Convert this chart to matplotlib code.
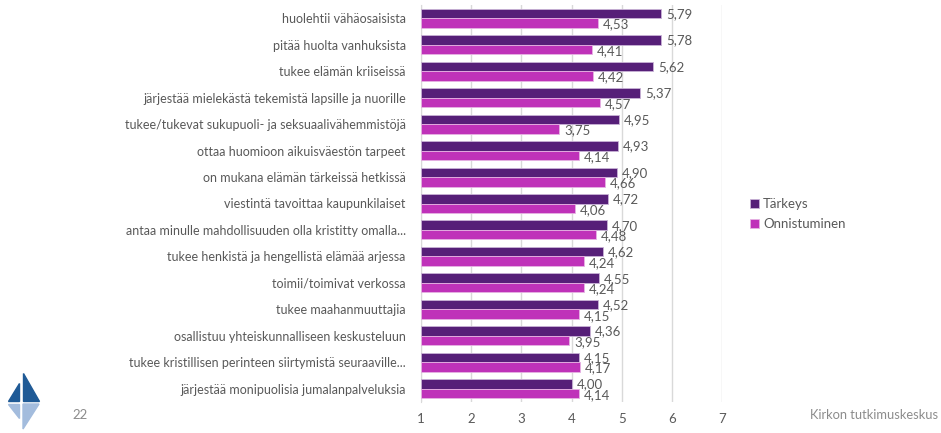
import matplotlib.pyplot as plt
from matplotlib.patches import Polygon
import numpy as np

plt.rcParams['font.family'] = ['Lato', 'DejaVu Sans']

categories = [
    "huolehtii vähäosaisista",
    "pitää huolta vanhuksista",
    "tukee elämän kriiseissä",
    "järjestää mielekästä tekemistä lapsille ja nuorille",
    "tukee/tukevat sukupuoli- ja seksuaalivähemmistöjä",
    "ottaa huomioon aikuisväestön tarpeet",
    "on mukana elämän tärkeissä hetkissä",
    "viestintä tavoittaa kaupunkilaiset",
    "antaa minulle mahdollisuuden olla kristitty omalla...",
    "tukee henkistä ja hengellistä elämää arjessa",
    "toimii/toimivat verkossa",
    "tukee maahanmuuttajia",
    "osallistuu yhteiskunnalliseen keskusteluun",
    "tukee kristillisen perinteen siirtymistä seuraaville...",
    "järjestää monipuolisia jumalanpalveluksia",
]
tarkeys = [5.79, 5.78, 5.62, 5.37, 4.95, 4.93, 4.90, 4.72, 4.70, 4.62, 4.55, 4.52, 4.36, 4.15, 4.00]
onnistuminen = [4.53, 4.41, 4.42, 4.57, 3.75, 4.14, 4.66, 4.06, 4.48, 4.24, 4.24, 4.15, 3.95, 4.17, 4.14]
xticks = [1, 2, 3, 4, 5, 6, 7]

dark = "#561F78"
magenta = "#BF32B9"
gray = "#595959"

fig = plt.figure(figsize=(9.41, 4.33), dpi=100)
ax = fig.add_axes([421 / 941, 31 / 433, 301 / 941, 397 / 433])

n = len(categories)
y = np.arange(n)
h = 0.36
ax.barh(y - h / 2, np.array(tarkeys) - 1, left=1, height=h, color=dark,
        edgecolor="#c9b3d6", linewidth=0.6, label="Tärkeys", zorder=3)
ax.barh(y + h / 2, np.array(onnistuminen) - 1, left=1, height=h, color=magenta,
        edgecolor="#e6b3e3", linewidth=0.6, label="Onnistuminen", zorder=3)

for i in range(n):
    ax.text(tarkeys[i] + 0.1, y[i] - h / 2 + 0.02, f"{tarkeys[i]:.2f}".replace(".", ","),
            va="center", ha="left", fontsize=9.5, color=gray)
    ax.text(onnistuminen[i] + 0.1, y[i] + h / 2 + 0.06, f"{onnistuminen[i]:.2f}".replace(".", ","),
            va="center", ha="left", fontsize=9.5, color=gray)

ax.set_xlim(1, 7)
ax.set_ylim(n - 0.5, -0.5)
ax.set_xticks(xticks)
ax.set_xticklabels([str(t) for t in xticks], fontsize=9.5, color=gray)
ax.set_yticks(y)
ax.set_yticklabels(categories, fontsize=9, color=gray)
ax.tick_params(axis="both", length=0, pad=8)
ax.tick_params(axis="y", pad=11)
ax.xaxis.grid(True, color="#d9d9d9", linewidth=1, zorder=0)
for s in ["top", "right", "bottom"]:
    ax.spines[s].set_visible(False)
ax.spines["left"].set_color("#d9d9d9")

leg = fig.legend(loc="upper left", bbox_to_anchor=(738 / 941, 1 - 186 / 433), frameon=False,
                 fontsize=9.5, handlelength=0.7, handleheight=0.7, handletextpad=0.3,
                 labelspacing=0.6)
for t in leg.get_texts():
    t.set_color(gray)

fig.text(80 / 941, 1 - 415 / 433, "22", fontsize=9.5, color="#8c8c8c", va="center", ha="center")
fig.text(938 / 941, 1 - 415 / 433, "Kirkon tutkimuskeskus", fontsize=9.3, color="#8c8c8c",
         va="center", ha="right")

# logo
def px(pts):
    return [(x / 941, 1 - yy / 433) for x, yy in pts]

for pts, c in [
    ([(8, 401), (19, 401), (19, 383)], "#1F5A96"),
    ([(23, 373), (23, 401), (39, 401)], "#1F5A96"),
    ([(8, 404), (19, 404), (19, 418)], "#A3BCDD"),
    ([(23, 404), (39, 404), (23, 429)], "#A3BCDD"),
]:
    fig.patches.append(Polygon(px(pts), closed=True, color=c, transform=fig.transFigure))

fig.savefig("out.png", dpi=100)
